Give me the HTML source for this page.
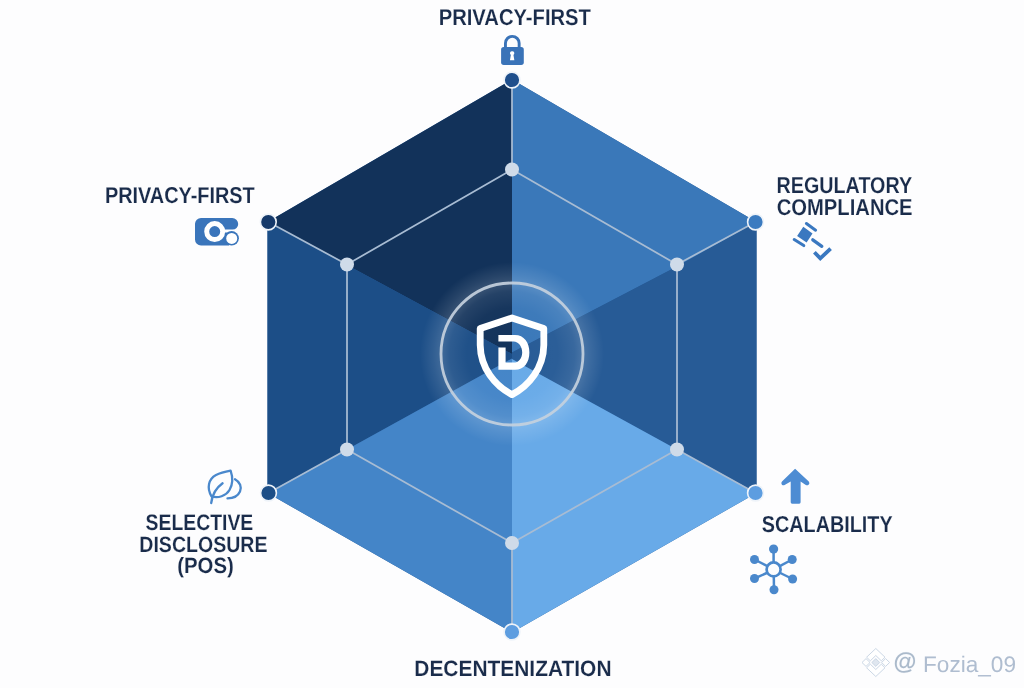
<!DOCTYPE html>
<html><head><meta charset="utf-8">
<style>
html,body{margin:0;padding:0;background:#fdfdfe;}
body{width:1024px;height:688px;overflow:hidden;position:relative;}
svg{position:absolute;left:0;top:0;display:block;will-change:transform;}
.t{font-family:"Liberation Sans",sans-serif;font-weight:bold;fill:#1a2c4b;text-rendering:geometricPrecision;stroke:#fdfdfe;stroke-width:0.12px;}
</style></head>
<body>
<svg width="1024" height="688" viewBox="0 0 1024 688">
<defs>
  <radialGradient id="glow" cx="512" cy="354" r="92" gradientUnits="userSpaceOnUse">
    <stop offset="0" stop-color="#ffffff" stop-opacity="0"/>
    <stop offset="0.5" stop-color="#ffffff" stop-opacity="0.02"/>
    <stop offset="0.68" stop-color="#ffffff" stop-opacity="0.08"/>
    <stop offset="0.77" stop-color="#ffffff" stop-opacity="0.16"/>
    <stop offset="0.86" stop-color="#ffffff" stop-opacity="0.09"/>
    <stop offset="1" stop-color="#ffffff" stop-opacity="0"/>
  </radialGradient>
</defs>
<rect width="1024" height="688" fill="#fdfdfe"/>

<!-- faces -->
<polygon points="512,79.5 756.5,222 756.5,493 512,632.5 267.5,493 267.5,222" fill="#2a5c98"/>
<polygon points="512,79.5 267.5,222 347,265 512,354" fill="#12325a"/>
<polygon points="512,79.5 756.5,222 677,266.5 512,352.6" fill="#3a78b9"/>
<polygon points="267.5,222 347,265 512,354 512,358.5 347,449.5 267.5,493" fill="#1c4e87"/>
<polygon points="756.5,222 677,266.5 512,352.6 512,359 677,449.5 756.5,493" fill="#275b96"/>
<polygon points="267.5,493 347,449.5 512,358.5 512,632.5" fill="#4485c8"/>
<polygon points="756.5,493 677,449.5 512,359 512,632.5" fill="#68aae8"/>

<!-- glow -->
<circle cx="512" cy="354" r="92" fill="url(#glow)"/>
<circle cx="512" cy="354" r="71" fill="none" stroke="#c4d0dd" stroke-width="2.8" opacity="0.92"/>

<!-- network lines -->
<g stroke="#a8bcd3" stroke-width="1.75" fill="none" stroke-linecap="round">
  <line x1="512" y1="80" x2="512" y2="169.5"/>
  <line x1="512" y1="169.5" x2="347" y2="264.5"/>
  <line x1="512" y1="169.5" x2="677" y2="264.5"/>
  <line x1="268.5" y1="222" x2="347" y2="264.5"/>
  <line x1="755.5" y1="222" x2="677" y2="264.5"/>
  <line x1="347" y1="264.5" x2="347" y2="449.5"/>
  <line x1="677" y1="264.5" x2="677" y2="449.5"/>
  <line x1="268.5" y1="493" x2="347" y2="449.5"/>
  <line x1="755.5" y1="493" x2="677" y2="449.5"/>
  <line x1="347" y1="449.5" x2="512" y2="543"/>
  <line x1="677" y1="449.5" x2="512" y2="543"/>
  <line x1="512" y1="543" x2="512" y2="632"/>
</g>
<g fill="#cfdbe9">
  <circle cx="512" cy="169.5" r="7"/>
  <circle cx="347" cy="264.5" r="7"/>
  <circle cx="677" cy="264.5" r="7"/>
  <circle cx="347" cy="449.5" r="7"/>
  <circle cx="677" cy="449.5" r="7"/>
  <circle cx="512" cy="543" r="7"/>
</g>
<g stroke="#eef3f9" stroke-width="1.6">
  <circle cx="512" cy="80" r="7.9" fill="#1f4f8c"/>
  <circle cx="268.3" cy="222" r="7.9" fill="#15396a"/>
  <circle cx="755.5" cy="222" r="7.9" fill="#3b7bc0"/>
  <circle cx="268.5" cy="493" r="7.9" fill="#1c4e87"/>
  <circle cx="755.5" cy="493" r="7.9" fill="#5d9de0"/>
  <circle cx="512" cy="632" r="7.9" fill="#5d9de0"/>
</g>

<!-- shield -->
<path d="M512,318 L480.2,328.4 L480.2,345 C480.5,368 495,386 512,394.6 C529,386 543.5,368 543.8,345 L543.8,328.4 Z" fill="none" stroke="#ffffff" stroke-width="6.8" stroke-linejoin="round"/>
<path d="M498.4,335 L515,335 C524,335 529.4,342.5 529.4,352.4 C529.4,362.3 524,369.8 515,369.8 L498.4,369.8 L498.4,347.4 L505.6,347.4 L505.6,362.6 L513.6,362.6 C518.6,362.6 522.2,358.2 522.2,352.4 C522.2,346.6 518.6,341.4 513.6,341.4 L498.4,341.4 Z" fill="#ffffff"/>

<!-- icons -->
<g fill="#3a73b8">
  <path d="M505.45,47.5 L505.45,43.2 A6.85,6.85 0 0 1 519.15,43.2 L519.15,47.5" fill="none" stroke="#3a73b8" stroke-width="2.9"/>
  <rect x="501.1" y="47.1" width="22.7" height="17.8" rx="2.6"/>
</g>
<path d="M512.15,51.2 a2.1,2.1 0 0 1 1.3,3.8 l0.9,5.2 h-4.4 l0.9,-5.2 a2.1,2.1 0 0 1 1.3,-3.8 z" fill="#ffffff"/>

<!-- toggle icon -->
<g>
  <path d="M201,218 L232,218 A6,6 0 0 1 238.2,224 A5.6,5.6 0 0 1 232.6,229.6 L222,229.6 L222,232.5 L229,232.5 L229,245.4 L201,245.4 A6,6 0 0 1 195,239.4 L195,224 A6,6 0 0 1 201,218 Z" fill="#3a75bb"/>
  <circle cx="231.6" cy="238.3" r="7.3" fill="#3a75bb"/>
  <circle cx="214.7" cy="231.6" r="8" fill="none" stroke="#ffffff" stroke-width="5"/>
  <circle cx="231.7" cy="238.4" r="5.5" fill="#ffffff"/>
</g>

<!-- gavel -->
<g fill="#3a78c0">
  <polygon points="803.3,226.8 812.5,233.4 806.6,242.5 797.1,236"/>
</g>
<g stroke="#3a78c0" stroke-linecap="round" fill="none">
  <line x1="806.4" y1="223.5" x2="815.6" y2="230.2" stroke-width="3"/>
  <line x1="794.2" y1="239.5" x2="803.8" y2="245.6" stroke-width="3"/>
  <line x1="812.8" y1="239.8" x2="821.8" y2="246.3" stroke-width="3.3"/>
  <polyline points="814.4,252.2 820.3,258.4 830.6,248.6" stroke-width="3.8" stroke-linecap="butt" stroke-linejoin="miter"/>
</g>

<!-- leaf -->
<g stroke="#4a88cc" stroke-width="2.3" fill="none" stroke-linecap="round" stroke-linejoin="round">
  <path d="M211.5,496.4 C206.5,488 208.5,479 216,475 C221,472.5 226,471.5 230.6,470.6 C232.5,476 233,484 229.5,490 C226,496 218,498.5 211.5,496.4 Z"/>
  <path d="M211.2,503 C212,496 216,488 222.6,483.3"/>
  <path d="M235,479.2 C240,482 242,487 240,491.5 C238,496 233,498.3 227.5,498.4"/>
</g>

<!-- arrow up -->
<path d="M795.1,468.8 L808.8,481.4 Q810.2,483.4 808.6,484.8 Q807.2,485.8 805.8,484.9 L800.6,481.6 L800.6,502.3 Q800.6,503.7 799.2,503.7 L792.1,503.7 Q790.7,503.7 790.7,502.3 L790.7,481.6 L784.6,485 Q783.2,485.8 781.9,484.7 Q780.6,483.2 782,481.6 Z" fill="#4d8cd3"/>

<!-- network -->
<g stroke="#4a88cc" stroke-width="2.5" fill="none">
  <circle cx="773.6" cy="569.4" r="7" stroke-width="2.7"/>
  <line x1="773.6" y1="549.1" x2="773.6" y2="563"/>
  <line x1="773.8" y1="576" x2="774" y2="589.7"/>
  <line x1="792.2" y1="559.5" x2="779.3" y2="566.3"/>
  <line x1="792.6" y1="579" x2="779.3" y2="572.5"/>
  <line x1="754.5" y1="578.5" x2="767.9" y2="572.5"/>
  <line x1="754.5" y1="559.5" x2="767.9" y2="566.3"/>
</g>
<g fill="#4a88cc">
  <circle cx="773.6" cy="549.1" r="4.6"/>
  <circle cx="792.2" cy="559.5" r="4.5"/>
  <circle cx="792.6" cy="579" r="4.5"/>
  <circle cx="774" cy="589.7" r="4.5"/>
  <circle cx="754.5" cy="578.5" r="4.5"/>
  <circle cx="754.5" cy="559.5" r="4.5"/>
</g>

<!-- watermark -->
<g fill="#ffffff" stroke="#c5d2e2" stroke-width="0.9" stroke-linejoin="round">
  <polygon points="875.8,648.5 885,657.2 881.3,660.8 875.8,655.5 870.3,660.8 866.6,657.2"/>
  <polygon points="862,662.5 866,658.6 870,662.5 866,666.4"/>
  <polygon points="889.6,662.5 885.6,658.6 881.6,662.5 885.6,666.4"/>
  <polygon points="875.8,658.6 879.7,662.5 875.8,666.4 871.9,662.5" fill="#dfe6ef"/>
  <polygon points="875.8,676.5 885,667.8 881.3,664.2 875.8,669.5 870.3,664.2 866.6,667.8"/>
</g>
<text x="893.6" y="668.6" font-family="Liberation Sans, sans-serif" font-weight="bold" font-size="23.5" fill="#abbacb" stroke="#f4f7fb" stroke-width="1" paint-order="stroke" text-rendering="geometricPrecision">@</text>
<text x="923" y="671.6" font-family="Liberation Sans, sans-serif" font-size="22.5" fill="#afbdd0" textLength="93" lengthAdjust="spacingAndGlyphs" text-rendering="geometricPrecision">Fozia_09</text>

<!-- labels -->
<text class="t" x="438.7" y="24.5" font-size="23.0" textLength="152.2" lengthAdjust="spacingAndGlyphs">PRIVACY-FIRST</text>
<text class="t" x="104.9" y="202.7" font-size="23.0" textLength="149.8" lengthAdjust="spacingAndGlyphs">PRIVACY-FIRST</text>
<text class="t" x="776.6" y="192.9" font-size="22.8" textLength="135.5" lengthAdjust="spacingAndGlyphs">REGULATORY</text>
<text class="t" x="776.7" y="214.9" font-size="22.8" textLength="135.9" lengthAdjust="spacingAndGlyphs">COMPLIANCE</text>
<text class="t" x="145.6" y="530.2" font-size="22.4" textLength="107.7" lengthAdjust="spacingAndGlyphs">SELECTIVE</text>
<text class="t" x="139.3" y="551.5" font-size="22.1" textLength="128.2" lengthAdjust="spacingAndGlyphs">DISCLOSURE</text>
<text class="t" x="177.2" y="572.8" font-size="22.2" textLength="56.6" lengthAdjust="spacingAndGlyphs">(POS)</text>
<text class="t" x="761.8" y="532.2" font-size="23.1" textLength="130.8" lengthAdjust="spacingAndGlyphs">SCALABILITY</text>
<text class="t" x="414.3" y="675.7" font-size="22.2" textLength="197.2" lengthAdjust="spacingAndGlyphs">DECENTENIZATION</text>

</svg>
</body></html>
